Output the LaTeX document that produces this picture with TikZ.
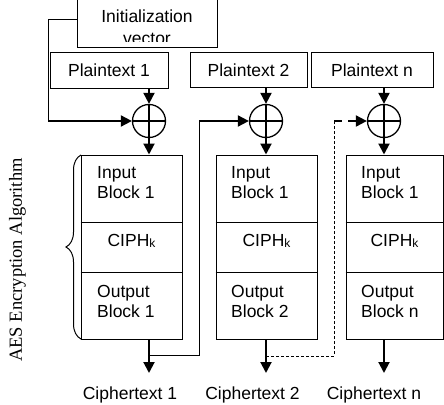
\documentclass[tikz,border=0pt]{standalone}
\usepackage{fontspec}
\setmainfont{Liberation Sans}
\newfontfamily\algfont{Liberation Serif}
\usetikzlibrary{arrows.meta, decorations.pathreplacing, calc}

\begin{document}
\begin{tikzpicture}[
	x=1pt, y=-1pt,
	box/.style={rectangle, draw=black, line width=1pt, inner sep=0pt},
	txt/.style={font=\fontsize{17.5}{20}\selectfont, inner sep=0pt, align=left},
	xor/.style={circle, draw=black, line width=1.3pt, minimum size=33pt, inner sep=0pt},
	arrow/.style={line width=2pt, -{Triangle[length=11pt, width=11pt]}},
	link/.style={line width=1pt},
	dlink/.style={line width=1pt, dash pattern=on 3pt off 2pt}
]
\useasboundingbox (0,0) rectangle (444,404);
\clip (0,0) rectangle (444,404);

% Initialization vector
\node[box, minimum width=140pt, minimum height=68pt] (iv) at (147,14) {};
\begin{scope}
	\clip (77,0) rectangle (217,42);
	\node[txt, font=\fontsize{17.5}{21.5}\selectfont, align=center, anchor=north] (ivtext) at (147,10) {Initialization\\vector};
\end{scope}

% Plaintexts
\node[box, txt, minimum width=118pt, minimum height=35pt] (pt1) at (109,70.5) {Plaintext 1};
\node[box, txt, minimum width=117pt, minimum height=34pt] (pt2) at (248.5,70) {Plaintext 2};
\node[box, txt, minimum width=122pt, minimum height=34pt] (ptn) at (372,70) {Plaintext n};

% XOR
\node[xor] (x1) at (149,121) {};
\node[xor] (x2) at (266,121) {};
\node[xor] (xn) at (384,121) {};
\foreach \x in {x1,x2,xn}
	\draw[line width=1.5pt] (\x.north) -- (\x.south) (\x.west) -- (\x.east);

% Cipher blocks
\node[box, minimum width=101pt, minimum height=184pt] (b1) at (131.5,247) {};
\node[box, minimum width=101pt, minimum height=184pt] (b2) at (266.5,247) {};
\node[box, minimum width=97pt, minimum height=184pt] (bn) at (394.5,247) {};
\foreach \b in {b1,b2,bn} {
	\draw[box] (\b.west |- 0,222) -- (\b.east |- 0,222);
	\draw[box] (\b.west |- 0,272) -- (\b.east |- 0,272);
	\node[txt, anchor=base] at ($(\b.center |- 0,246)$) {CIPH\raisebox{-1pt}{\fontsize{12}{12}\selectfont k}};
}
\node[txt, anchor=north west] (in1) at (97,166) {Input\\Block 1};
\node[txt, anchor=north west] (in2) at (231,166) {Input\\Block 1};
\node[txt, anchor=north west] (inn) at (361,166) {Input\\Block 1};
\node[txt, anchor=north west] (out1) at (97,285) {Output\\Block 1};
\node[txt, anchor=north west] (out2) at (231,285) {Output\\Block 2};
\node[txt, anchor=north west] (outn) at (361,285) {Output\\Block n};

% Brace and algorithm label
\draw[line width=1pt, decorate, decoration={brace, amplitude=15pt}] (81,339) -- (81,155);
\node[font=\algfont\fontsize{18.5}{20}\selectfont, rotate=90] (alg) at (17.5,260) {AES Encryption Algorithm};

% Ciphertexts
\node[txt, anchor=base] (c1) at (130,399) {Ciphertext 1};
\node[txt, anchor=base] (c2) at (252.5,399) {Ciphertext 2};
\node[txt, anchor=base] (cn) at (374,399) {Ciphertext n};
\coordinate (e1) at (149,373);
\coordinate (e2) at (266,373);
\coordinate (en) at (384,373);

% Arrows
\coordinate (iva) at (77,20);
\coordinate (ivb) at (48,20);
\coordinate (ivc) at (48,121);
\draw[link] (iva) -- (ivb) -- (ivc);
\draw[arrow] (ivc) -- (x1.west);
\foreach \p/\x/\b/\e in {pt1/x1/b1/e1, pt2/x2/b2/e2, ptn/xn/bn/en} {
	\draw[arrow] (\p.south -| \x) -- (\x.north);
	\draw[arrow] (\x.south) -- (\x |- \b.north);
	\draw[arrow] (\x |- \b.south) -- (\e);
}

% Chaining
\coordinate (t1) at (149,355);
\coordinate (v1) at (199,121);
\draw[link] (t1) -| (v1);
\draw[arrow] (v1) -- (x2.west);
\coordinate (t2) at (266,356);
\coordinate (v2) at (334,121);
\draw[dlink] (t2) -| (v2);
\draw[arrow, dash pattern=on 8pt off 6pt] (v2) -- (xn.west);

\end{tikzpicture}
\end{document}
